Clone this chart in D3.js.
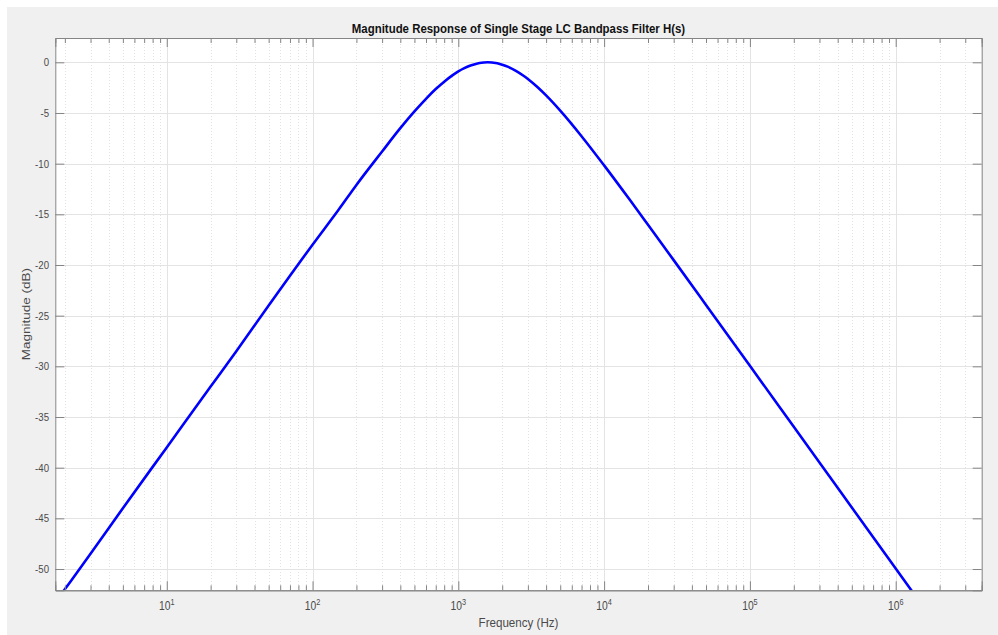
<!DOCTYPE html>
<html>
<head>
<meta charset="utf-8">
<script src="https://cdn.jsdelivr.net/npm/d3@7"></script>
<style>
    body { margin: 0; background: #ffffff; }
    text { font-family: "Liberation Sans", Arial, sans-serif; }
</style>
</head>
<body>
<div id="chart"></div>
<script>

// values (frequency in Hz, magnitude in dB)
var freqHz = [1.7, 2, 3, 5, 10, 20, 30, 50, 100, 150, 200, 300, 400, 500, 600,
              700, 800, 900, 1000, 1100, 1200, 1300, 1400, 1500, 1590, 1700,
              1800, 1900, 2000, 2200, 2500, 2800, 3000, 3500, 4000, 5000, 7000,
              10000, 15000, 20000, 30000, 50000, 1e5, 2e5, 3e5, 5e5, 1e6, 1.5e6];
var magDb = [-53.4, -52.0, -48.5, -44.0, -38.0, -32.0, -28.5, -24.0, -18.0, -14.6,
             -12.1, -8.8, -6.5, -4.85, -3.6, -2.64, -1.91, -1.34, -0.9, -0.58,
             -0.34, -0.18, -0.07, -0.02, 0.0, -0.02, -0.07, -0.14, -0.23, -0.45,
             -0.86, -1.32, -1.64, -2.46, -3.27, -4.77, -7.29, -10.17, -13.57,
             -16.03, -19.52, -23.94, -29.95, -35.97, -39.49, -43.93, -49.95, -53.47];

var yTicks = [0, -5, -10, -15, -20, -25, -30, -35, -40, -45, -50];
var xDecades = [10, 100, 1000, 10000, 100000, 1000000];
var xDecadeExp = ['1', '2', '3', '4', '5', '6'];

var titleText = 'Magnitude Response of Single Stage LC Bandpass Filter H(s)';
var xLabelText = 'Frequency (Hz)';
var yLabelText = 'Magnitude (dB)';

var width = 998;
var height = 635;

var plot_left = 55.3;
var plot_right = 981.7;
var plot_top = 38;
var plot_bottom = 590.3;

var axis_color = '#858585';
var text_color = '#4a4a4a';

// the reference glyphs are a bit narrower than they are tall
var squeeze = 0.86;

function placeText(px, py) {
    return 'translate(' + px + ',' + py + ') scale(' + squeeze + ',1)';
}

var x = d3.scaleLog()
    .domain([1.72, 3.89e6])
    .range([plot_left, plot_right]);

var y = d3.scaleLinear()
    .domain([-52.1, 2.4])
    .range([plot_bottom, plot_top]);

var svg = d3.select('#chart')
  .append('svg')
    .attr('width', width)
    .attr('height', height);

// figure background
svg.append('rect')
    .attr('x', 7)
    .attr('y', 7)
    .attr('width', width - 7)
    .attr('height', height - 7)
    .attr('fill', '#f0f0f0');

// plot area
svg.append('rect')
    .attr('x', plot_left)
    .attr('y', plot_top)
    .attr('width', plot_right - plot_left)
    .attr('height', plot_bottom - plot_top)
    .attr('fill', '#ffffff');

// minor x values (2..9 of every decade inside the domain)
var minorX = [];
for(var e = 0; e <= 6; e++) {
    for(var m = 2; m <= 9; m++) {
        var v = m * Math.pow(10, e);
        if(v > x.domain()[0] && v < x.domain()[1]) minorX.push(v);
    }
}

// minor x grid (dotted)
svg.append('g')
    .selectAll('line')
    .data(minorX)
  .enter()
    .append('line')
    .attr('x1', function(d) { return Math.round(x(d)) + 0.5; })
    .attr('x2', function(d) { return Math.round(x(d)) + 0.5; })
    .attr('y1', plot_top)
    .attr('y2', plot_bottom)
    .attr('stroke', '#e2e2e2')
    .attr('stroke-width', 1)
    .attr('stroke-dasharray', '1,2');

// major x grid
svg.append('g')
    .selectAll('line')
    .data(xDecades)
  .enter()
    .append('line')
    .attr('x1', function(d) { return Math.round(x(d)) + 0.5; })
    .attr('x2', function(d) { return Math.round(x(d)) + 0.5; })
    .attr('y1', plot_top)
    .attr('y2', plot_bottom)
    .attr('stroke', '#e3e3e3')
    .attr('stroke-width', 1);

// major y grid
svg.append('g')
    .selectAll('line')
    .data(yTicks)
  .enter()
    .append('line')
    .attr('x1', plot_left)
    .attr('x2', plot_right)
    .attr('y1', function(d) { return Math.round(y(d)) + 0.5; })
    .attr('y2', function(d) { return Math.round(y(d)) + 0.5; })
    .attr('stroke', '#e3e3e3')
    .attr('stroke-width', 1);

// response curve
svg.append('clipPath')
    .attr('id', 'plot-clip')
  .append('rect')
    .attr('x', plot_left)
    .attr('y', plot_top)
    .attr('width', plot_right - plot_left)
    .attr('height', plot_bottom - plot_top);

var line = d3.line()
    .x(function(d, i) { return x(freqHz[i]); })
    .y(function(d) { return y(d); })
    .curve(d3.curveMonotoneX);

svg.append('path')
    .attr('clip-path', 'url(#plot-clip)')
    .attr('d', line(magDb))
    .attr('fill', 'none')
    .attr('stroke', '#0000ff')
    .attr('stroke-width', 2.6)
    .attr('stroke-linejoin', 'round');

// axes (ticks pointing inward, box on)
var xBottom = d3.axisBottom(x).tickValues(xDecades).tickSize(-9).tickFormat('');
var xTop = d3.axisTop(x).tickValues(xDecades).tickSize(-9).tickFormat('');
var xBottomMinor = d3.axisBottom(x).tickValues(minorX).tickSize(-5).tickFormat('');
var xTopMinor = d3.axisTop(x).tickValues(minorX).tickSize(-5).tickFormat('');
var yLeft = d3.axisLeft(y).tickValues(yTicks).tickSize(-9).tickFormat('');
var yRight = d3.axisRight(y).tickValues(yTicks).tickSize(-9).tickFormat('');

function styleAxis(g) {
    g.selectAll('path').attr('stroke', axis_color);
    g.selectAll('line').attr('stroke', axis_color);
}

svg.append('g').attr('transform', 'translate(0,' + plot_bottom + ')').call(xBottomMinor).call(styleAxis);
svg.append('g').attr('transform', 'translate(0,' + plot_top + ')').call(xTopMinor).call(styleAxis);
svg.append('g').attr('transform', 'translate(0,' + plot_bottom + ')').call(xBottom).call(styleAxis);
svg.append('g').attr('transform', 'translate(0,' + plot_top + ')').call(xTop).call(styleAxis);
svg.append('g').attr('transform', 'translate(' + plot_left + ',0)').call(yLeft).call(styleAxis);
svg.append('g').attr('transform', 'translate(' + plot_right + ',0)').call(yRight).call(styleAxis);

// y tick labels
svg.append('g')
    .selectAll('text')
    .data(yTicks)
  .enter()
    .append('text')
    .attr('transform', function(d) { return placeText(plot_left - 6.3, y(d) + 4); })
    .attr('font-size', '11.2px')
    .attr('fill', text_color)
    .style('text-anchor', 'end')
    .text(function(d) { return d.toString(); });

// x tick labels (10 with superscript exponent)
var xl = svg.append('g')
    .selectAll('text')
    .data(xDecades)
  .enter()
    .append('text')
    .attr('transform', function(d) { return placeText(x(d), plot_bottom + 20); })
    .attr('font-size', '12px')
    .attr('fill', text_color)
    .style('text-anchor', 'middle');

xl.append('tspan').text('10');
xl.append('tspan')
    .attr('dy', -5.5)
    .attr('font-size', '8.5px')
    .text(function(d, i) { return xDecadeExp[i]; });

// axis labels
svg.append('text')
    .attr('transform', placeText((plot_left + plot_right) / 2, 627))
    .attr('font-size', '13.5px')
    .attr('fill', text_color)
    .style('text-anchor', 'middle')
    .text(xLabelText);

svg.append('text')
    .attr('transform', placeText(30, (plot_top + plot_bottom) / 2) + ' rotate(-90)')
    .attr('font-size', '13.5px')
    .attr('fill', text_color)
    .style('text-anchor', 'middle')
    .text(yLabelText);

// title
svg.append('text')
    .attr('transform', placeText((plot_left + plot_right) / 2, 32.5))
    .attr('font-size', '13.3px')
    .attr('font-weight', 'bold')
    .attr('fill', '#111111')
    .style('text-anchor', 'middle')
    .text(titleText);

</script>
</body>
</html>
